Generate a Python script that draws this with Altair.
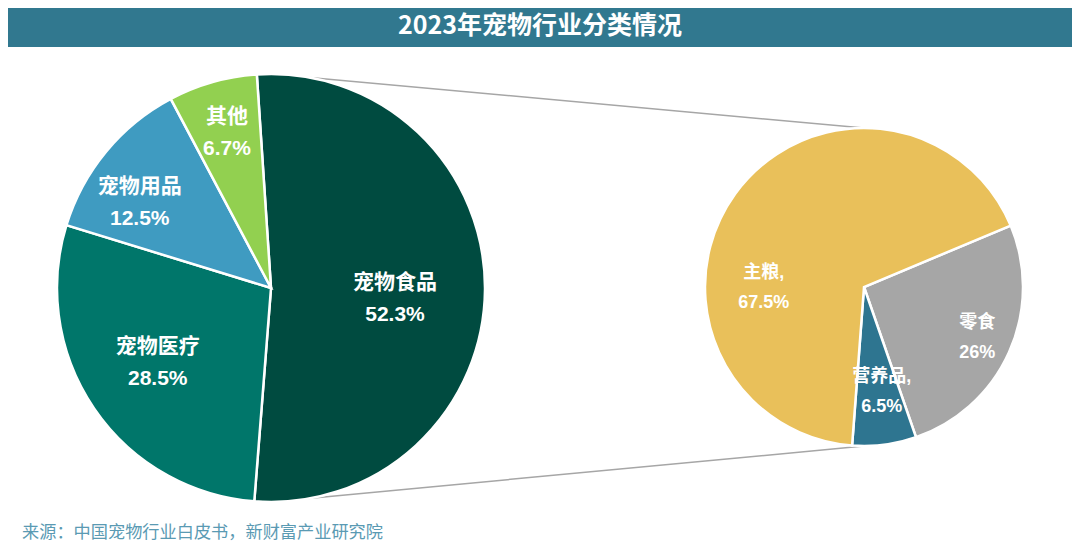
import math
import numpy as np
import pandas as pd
import altair as alt

# ---------------- data ----------------
TITLE = "2023年宠物行业分类情况"
SOURCE = "来源：中国宠物行业白皮书，新财富产业研究院"

LEFT_CATS = ["宠物食品", "宠物医疗", "宠物用品", "其他"]
LEFT_VALUES = [52.3, 28.5, 12.5, 6.7]

RIGHT_CATS = ["零食", "营养品,", "主粮,"]
RIGHT_VALUES = [26, 6.5, 67.5]

# ---------------- styles / layout ----------------
LEFT_COLORS = ["#004B40", "#00766A", "#3F9BC1", "#92D050"]
RIGHT_COLORS = ["#A6A6A6", "#2E7590", "#E9C05A"]
BAR_COLOR = "#31788F"
SOURCE_COLOR = "#5A9AB3"
LINE_COLOR = "#A6A6A6"
FONT = "Liberation Sans, Noto Sans CJK SC"
CJK_FONT = "Noto Sans CJK SC"

W, H = 1064, 540
LEFT_C, LEFT_R, LEFT_START = (263, 280), 214, -3.8
RIGHT_C, RIGHT_R, RIGHT_START = (856, 279), 159, 67.3

# label placement per slice: (radius, dx, dy)
LEFT_LABEL_POS = [(124, 0, -6), (137, 0, -18), (156, -11, -2), (161, 0, -16)]
RIGHT_LABEL_POS = [(124, 0, -15), (106, 4, -15), (110, -11, 50)]


def pie_frame(labels, values, colors):
    v = np.array(values, dtype=float)
    end = np.cumsum(v)
    start = end - v
    mid = end - v / 2
    text = [f"{l}\n{val:g}%" for l, val in zip(labels, values)]
    return pd.DataFrame({"label": labels, "value": v, "start": start, "end": end,
                         "mid": mid, "color": colors, "text": text})


def pie_layers(df, center, r, start_deg, label_pos, fs, lh):
    s = math.radians(start_deg)
    total = float(df["value"].sum())
    sc = alt.Scale(domain=[0, total], range=[s, s + 2 * math.pi])
    cx, cy = center
    arc = alt.Chart(df).mark_arc(radius=r, stroke="white", strokeWidth=2.5).encode(
        theta=alt.Theta("start:Q", scale=sc),
        theta2="end:Q",
        color=alt.Color("color:N", scale=None),
        x=alt.value(cx), y=alt.value(cy),
    )
    layers = [arc]
    for i, (lr, dx, dy) in enumerate(label_pos):
        t = alt.Chart(df.iloc[[i]]).mark_text(
            radius=lr, dx=dx, dy=dy, lineBreak="\n", lineHeight=lh, fontSize=fs,
            fontWeight="bold", font=FONT, color="white", align="center", baseline="middle",
        ).encode(
            theta=alt.Theta("mid:Q", scale=sc, stack=False),
            text="text:N",
            x=alt.value(cx), y=alt.value(cy),
        )
        layers.append(t)
    return layers


left_df = pie_frame(LEFT_CATS, LEFT_VALUES, LEFT_COLORS)
right_df = pie_frame(RIGHT_CATS, RIGHT_VALUES, RIGHT_COLORS)

one = pd.DataFrame({"title": [TITLE], "source": [SOURCE]})

bar = alt.Chart(one).mark_rect(color=BAR_COLOR).encode(
    x=alt.value(0), x2=alt.value(W), y=alt.value(0), y2=alt.value(39)
)
title = alt.Chart(one).mark_text(
    font=CJK_FONT, fontSize=25, fontWeight="bold", color="white",
    align="center", baseline="middle",
).encode(text="title:N", x=alt.value(W / 2), y=alt.value(18))

source = alt.Chart(one).mark_text(
    font=CJK_FONT, fontSize=17.2, color=SOURCE_COLOR, align="left", baseline="middle",
).encode(text="source:N", x=alt.value(14), y=alt.value(525))

line_top = alt.Chart(one).mark_rule(color=LINE_COLOR, strokeWidth=1.5).encode(
    x=alt.value(LEFT_C[0]), y=alt.value(LEFT_C[1] - LEFT_R),
    x2=alt.value(RIGHT_C[0]), y2=alt.value(RIGHT_C[1] - RIGHT_R),
)
line_bot = alt.Chart(one).mark_rule(color=LINE_COLOR, strokeWidth=1.5).encode(
    x=alt.value(LEFT_C[0]), y=alt.value(LEFT_C[1] + LEFT_R),
    x2=alt.value(RIGHT_C[0]), y2=alt.value(RIGHT_C[1] + RIGHT_R),
)

layers = [bar, title, source, line_top, line_bot]
layers += pie_layers(left_df, LEFT_C, LEFT_R, LEFT_START, LEFT_LABEL_POS, 21, 32)
layers += pie_layers(right_df, RIGHT_C, RIGHT_R, RIGHT_START, RIGHT_LABEL_POS, 18, 30)

chart = alt.layer(*layers).resolve_scale(theta="independent").properties(
    width=W, height=H, padding=0, autosize=alt.AutoSizeParams(type="none"),
    background="white",
).configure_view(strokeWidth=0)

chart.save("out.html", embed_options={"renderer": "svg", "actions": False})
